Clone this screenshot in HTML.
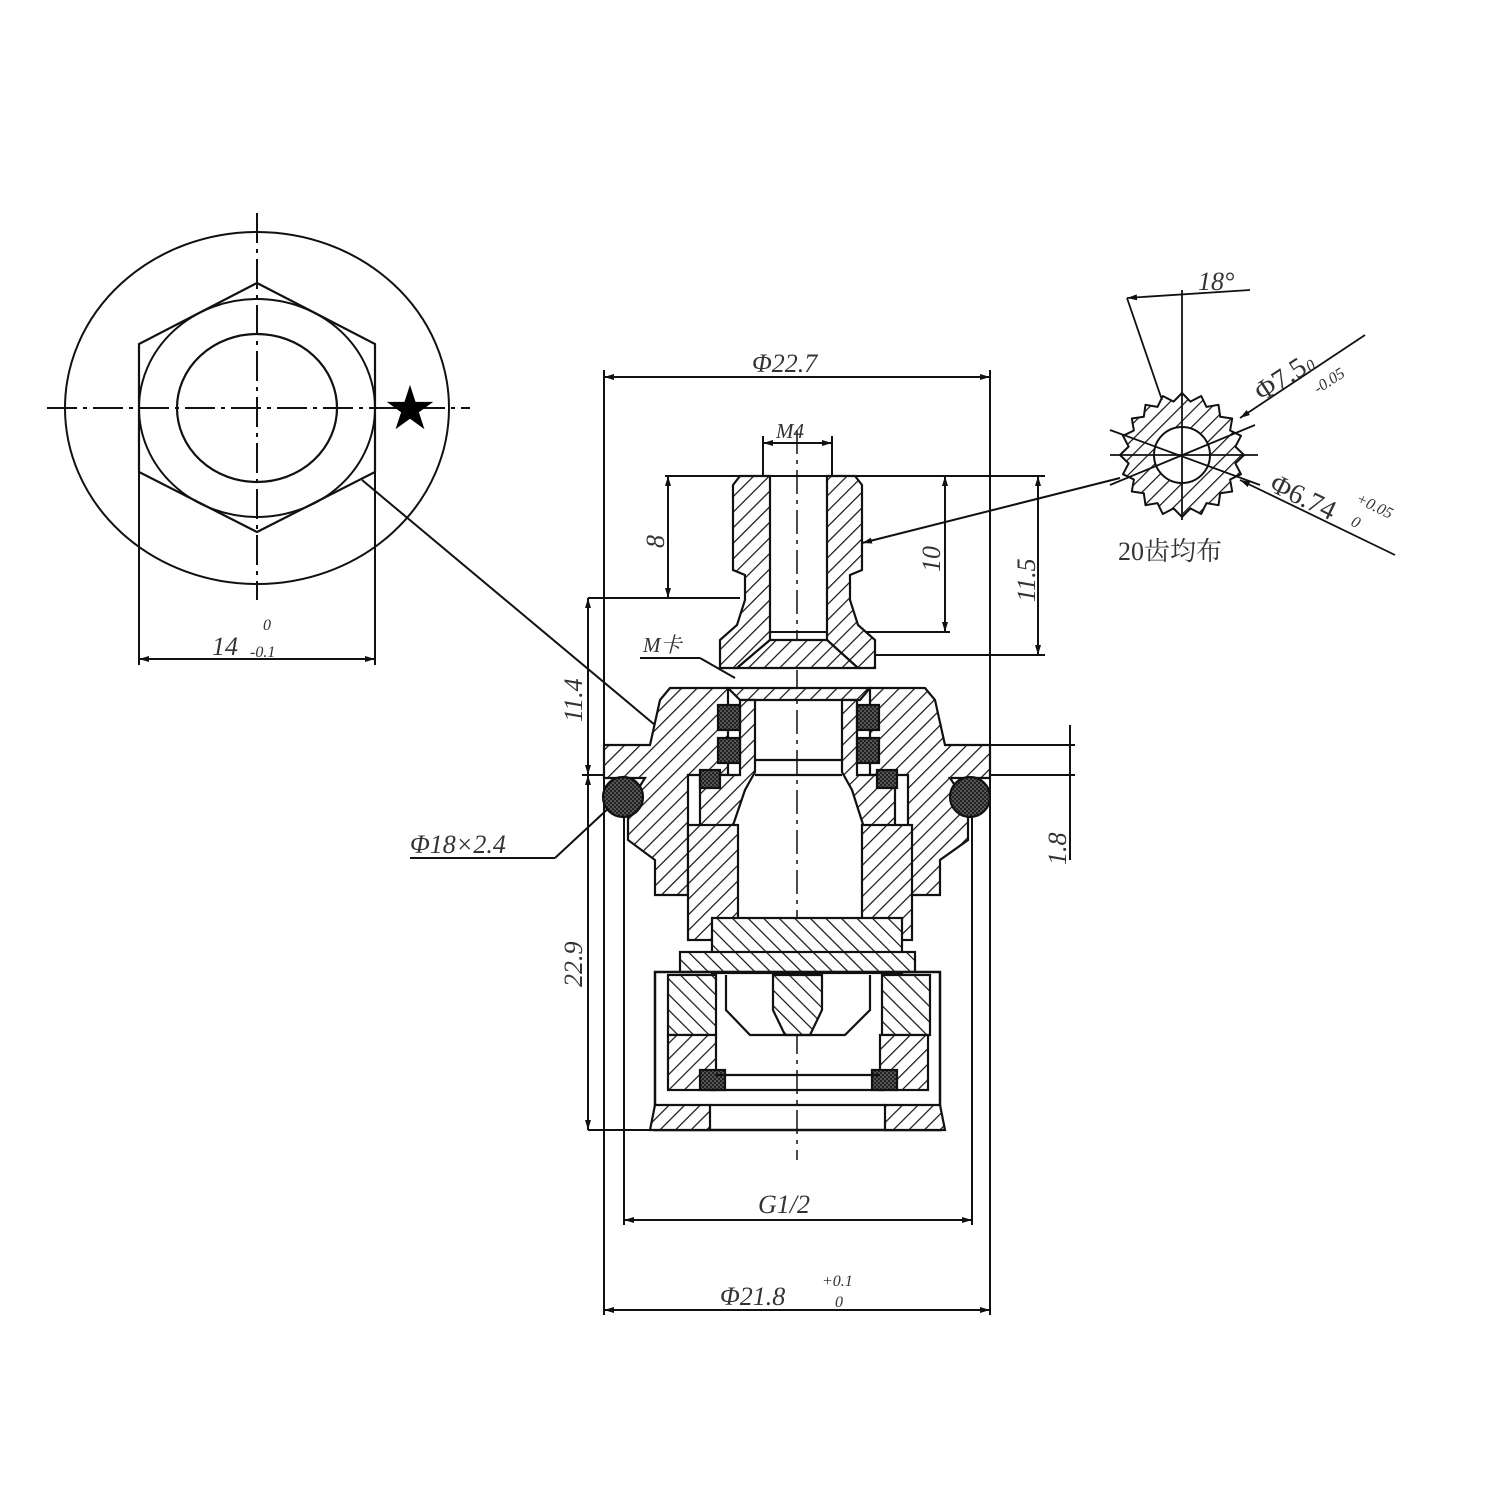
<!DOCTYPE html>
<html><head><meta charset="utf-8"><style>
html,body{margin:0;padding:0;background:#fff}
svg{display:block}
text{font-family:"Liberation Serif","Noto Serif CJK SC",serif;font-style:italic;fill:#333}
</style></head><body>
<svg width="1500" height="1500" viewBox="0 0 1500 1500" xmlns="http://www.w3.org/2000/svg">
<defs>
<pattern id="h" width="11" height="11" patternUnits="userSpaceOnUse" patternTransform="rotate(45)">
<rect width="11" height="11" fill="#fff"/><line x1="0" y1="0" x2="0" y2="11" stroke="#111" stroke-width="2.4"/></pattern>
<pattern id="h2" width="11" height="11" patternUnits="userSpaceOnUse" patternTransform="rotate(-45)">
<rect width="11" height="11" fill="#fff"/><line x1="0" y1="0" x2="0" y2="11" stroke="#111" stroke-width="2.4"/></pattern>
<pattern id="x" width="4" height="4" patternUnits="userSpaceOnUse">
<rect width="4" height="4" fill="#555"/><rect width="2" height="2" fill="#222"/><rect x="2" y="2" width="2" height="2" fill="#222"/></pattern>
<marker id="a" viewBox="0 0 10 6" refX="10" refY="3" markerWidth="10" markerHeight="6" orient="auto-start-reverse" markerUnits="userSpaceOnUse"><path d="M0,0 L10,3 L0,6 Z" fill="#111"/></marker>
</defs>
<g fill="none" stroke="#111" stroke-width="2">
<!-- hex view -->
<ellipse cx="257" cy="408" rx="192" ry="176"/>
<polygon points="257,283 375,344 375,472 257,532 139,472 139,344" stroke-width="2.2"/>
<ellipse cx="257" cy="408" rx="118" ry="109" stroke-width="2"/>
<ellipse cx="257" cy="408" rx="80" ry="74" stroke-width="2.2"/>
<line x1="47" y1="408" x2="470" y2="408" stroke-dasharray="30,6,4,6"/>
<line x1="257" y1="213" x2="257" y2="600" stroke-dasharray="30,6,4,6"/>
<line x1="139" y1="472" x2="139" y2="665"/><line x1="375" y1="472" x2="375" y2="665"/>
<line x1="139" y1="659" x2="375" y2="659" marker-start="url(#a)" marker-end="url(#a)"/>
<line x1="362" y1="480" x2="655" y2="725"/>

<!-- main dims -->
<line x1="604" y1="370" x2="604" y2="1315"/><line x1="990" y1="370" x2="990" y2="1315"/>
<line x1="604" y1="377" x2="990" y2="377" marker-start="url(#a)" marker-end="url(#a)"/>
<line x1="604" y1="1310" x2="990" y2="1310" marker-start="url(#a)" marker-end="url(#a)"/>
<line x1="624" y1="790" x2="624" y2="1225"/><line x1="972" y1="790" x2="972" y2="1225"/>
<line x1="624" y1="1220" x2="972" y2="1220" marker-start="url(#a)" marker-end="url(#a)"/>
<line x1="763" y1="436" x2="763" y2="480"/><line x1="832" y1="436" x2="832" y2="480"/>
<line x1="763" y1="443" x2="832" y2="443" marker-start="url(#a)" marker-end="url(#a)"/>
<line x1="665" y1="476" x2="1045" y2="476"/>
<line x1="668" y1="476" x2="668" y2="598" marker-start="url(#a)" marker-end="url(#a)"/>
<line x1="588" y1="598" x2="740" y2="598"/>
<line x1="945" y1="476" x2="945" y2="632" marker-start="url(#a)" marker-end="url(#a)"/><line x1="770" y1="632" x2="950" y2="632"/>
<line x1="1038" y1="476" x2="1038" y2="655" marker-start="url(#a)" marker-end="url(#a)"/><line x1="870" y1="655" x2="1045" y2="655"/>
<line x1="588" y1="598" x2="588" y2="775" marker-start="url(#a)" marker-end="url(#a)"/>
<line x1="588" y1="775" x2="588" y2="1130" marker-start="url(#a)" marker-end="url(#a)"/>
<line x1="582" y1="775" x2="604" y2="775"/>
<line x1="588" y1="1130" x2="940" y2="1130"/>
<line x1="990" y1="745" x2="1075" y2="745"/><line x1="990" y1="775" x2="1075" y2="775"/>
<line x1="1070" y1="725" x2="1070" y2="860"/>
<line x1="410" y1="858" x2="555" y2="858"/><line x1="555" y1="858" x2="612" y2="805"/>
<line x1="640" y1="658" x2="700" y2="658"/><line x1="700" y1="658" x2="735" y2="678"/>
<line x1="1120" y1="478" x2="862" y2="543" marker-end="url(#a)"/>
<line x1="797" y1="430" x2="797" y2="1160" stroke-dasharray="24,6,4,6" stroke-width="1.5"/>
</g>
<g stroke="#111" stroke-width="2.2">
<!-- stem -->
<path d="M733,485 L740,476 L770,476 L770,640 L737,668 L720,668 L720,640 L737,625 L745,600 L745,575 L733,570 Z" fill="url(#h)"/>
<path d="M862,485 L855,476 L827,476 L827,640 L858,668 L875,668 L875,640 L858,625 L850,600 L850,575 L862,570 Z" fill="url(#h)"/>
<path d="M770,640 L827,640 L858,668 L737,668 Z" fill="url(#h)"/>
<!-- nut -->
<path d="M670,688 L728,688 L728,775 L688,775 L688,895 L655,895 L655,860 L628,840 L628,805 L645,778 L604,778 L604,745 L650,745 L660,700 Z" fill="url(#h)"/>
<path d="M925,688 L870,688 L870,775 L908,775 L908,895 L940,895 L940,860 L968,840 L968,805 L950,778 L990,778 L990,745 L945,745 L935,700 Z" fill="url(#h)"/>
<path d="M728,688 L870,688 L860,700 L740,700 Z" fill="url(#h)"/>
<!-- inner sleeve -->
<path d="M740,700 L755,700 L755,772 L745,790 L728,840 L700,840 L700,775 L740,775 Z" fill="url(#h)"/>
<path d="M857,700 L842,700 L842,772 L852,790 L868,840 L895,840 L895,775 L857,775 Z" fill="url(#h)"/>
<rect x="688" y="825" width="50" height="115" fill="url(#h)"/>
<rect x="862" y="825" width="50" height="115" fill="url(#h)"/>
<rect x="712" y="918" width="190" height="55" fill="url(#h2)"/>
<rect x="680" y="952" width="235" height="20" fill="url(#h2)"/>
<!-- cartridge -->
<rect x="655" y="972" width="285" height="158" fill="none" stroke-width="2.5"/>
<rect x="668" y="975" width="48" height="60" fill="url(#h2)"/>
<rect x="882" y="975" width="48" height="60" fill="url(#h2)"/>
<path d="M773,975 L822,975 L822,1010 L810,1035 L785,1035 L773,1010 Z" fill="url(#h2)"/>
<path d="M726,975 L726,1010 L750,1035 L845,1035 L870,1010 L870,975" fill="none"/>
<rect x="668" y="1035" width="48" height="55" fill="url(#h)"/>
<rect x="880" y="1035" width="48" height="55" fill="url(#h)"/>
<path d="M655,1105 L710,1105 L710,1130 L650,1130 Z" fill="url(#h)"/>
<path d="M885,1105 L940,1105 L945,1130 L885,1130 Z" fill="url(#h)"/>
<rect x="700" y="1070" width="25" height="20" fill="url(#x)"/>
<rect x="872" y="1070" width="25" height="20" fill="url(#x)"/>
<line x1="710" y1="1090" x2="885" y2="1090"/><line x1="710" y1="1105" x2="885" y2="1105"/>
<line x1="716" y1="1075" x2="880" y2="1075"/>
<line x1="755" y1="760" x2="842" y2="760"/><line x1="755" y1="775" x2="842" y2="775"/>
<!-- seals -->
<rect x="718" y="705" width="22" height="25" fill="url(#x)"/><rect x="718" y="738" width="22" height="25" fill="url(#x)"/>
<rect x="857" y="705" width="22" height="25" fill="url(#x)"/><rect x="857" y="738" width="22" height="25" fill="url(#x)"/>
<rect x="700" y="770" width="20" height="18" fill="url(#x)"/><rect x="877" y="770" width="20" height="18" fill="url(#x)"/>
<circle cx="623" cy="797" r="20" fill="url(#x)"/>
<circle cx="970" cy="797" r="20" fill="url(#x)"/>
</g>
<!-- gear -->
<g stroke="#111">
<polygon fill="url(#h)" stroke-width="2" stroke-linejoin="round" points="1244,455 1235.4,463.4 1241,474.2 1230.1,479.5 1232.2,491.5 1220.2,493.2 1218.5,505.2 1206.5,503.1 1201.2,514 1190.4,508.4 1182,517 1173.6,508.4 1162.8,514 1157.5,503.1 1145.5,505.2 1143.8,493.2 1131.8,491.5 1133.9,479.5 1123,474.2 1128.6,463.4 1120,455 1128.6,446.6 1123,435.8 1133.9,430.5 1131.8,418.5 1143.8,416.8 1145.5,404.8 1157.5,406.9 1162.8,396 1173.6,401.6 1182,393 1190.4,401.6 1201.2,396 1206.5,406.9 1218.5,404.8 1220.2,416.8 1232.2,418.5 1230.1,430.5 1241,435.8 1235.4,446.6"/>
<circle cx="1182" cy="455" r="28" fill="#fff" stroke-width="2"/>
<g stroke-width="1.8" fill="none">
<line x1="1182" y1="290" x2="1182" y2="520"/>
<line x1="1110" y1="455" x2="1258" y2="455"/>
<line x1="1127" y1="298" x2="1162" y2="400"/>
<line x1="1127" y1="298" x2="1250" y2="290" marker-start="url(#a)"/>
<line x1="1365" y1="335" x2="1240" y2="418" marker-end="url(#a)"/>
<line x1="1395" y1="555" x2="1240" y2="480" marker-end="url(#a)"/>
<line x1="1110" y1="430" x2="1260" y2="485"/>
<line x1="1110" y1="485" x2="1255" y2="425"/>
</g></g>
<!-- star -->
<text x="385" y="426" style="font-style:normal;font-size:50px;fill:#000">★</text>
<!-- labels -->
<g font-size="26">
<text x="752" y="372">Φ22.7</text>
<text x="776" y="438" font-size="21">M4</text>
<text x="212" y="655">14</text><text x="263" y="630" font-size="16">0</text><text x="250" y="657" font-size="16">-0.1</text>
<text x="643" y="652" font-size="21">M卡</text>
<text x="410" y="853">Φ18×2.4</text>
<text x="758" y="1213">G1/2</text>
<text x="720" y="1305">Φ21.8</text><text x="822" y="1286" font-size="16">+0.1</text><text x="835" y="1307" font-size="16">0</text>
<text x="1198" y="290">18°</text>
<text x="1118" y="560" style="font-style:normal">20齿均布</text>
<text transform="translate(664,548) rotate(-90)">8</text>
<text transform="translate(940,572) rotate(-90)">10</text>
<text transform="translate(1035,602) rotate(-90)">11.5</text>
<text transform="translate(582,722) rotate(-90)">11.4</text>
<text transform="translate(582,987) rotate(-90)">22.9</text>
<text transform="translate(1066,865) rotate(-90)">1.8</text>
<text transform="translate(1262,402) rotate(-33)" style="font-style:normal" font-size="28">Φ7.5</text>
<text transform="translate(1310,372) rotate(-33)" font-size="16">0</text>
<text transform="translate(1318,394) rotate(-33)" font-size="16">-0.05</text>
<text transform="translate(1268,490) rotate(26)" style="font-style:normal" font-size="28">Φ6.74</text>
<text transform="translate(1355,502) rotate(26)" font-size="16">+0.05</text>
<text transform="translate(1350,525) rotate(26)" font-size="16">0</text>
</g>
</svg>
</body></html>
